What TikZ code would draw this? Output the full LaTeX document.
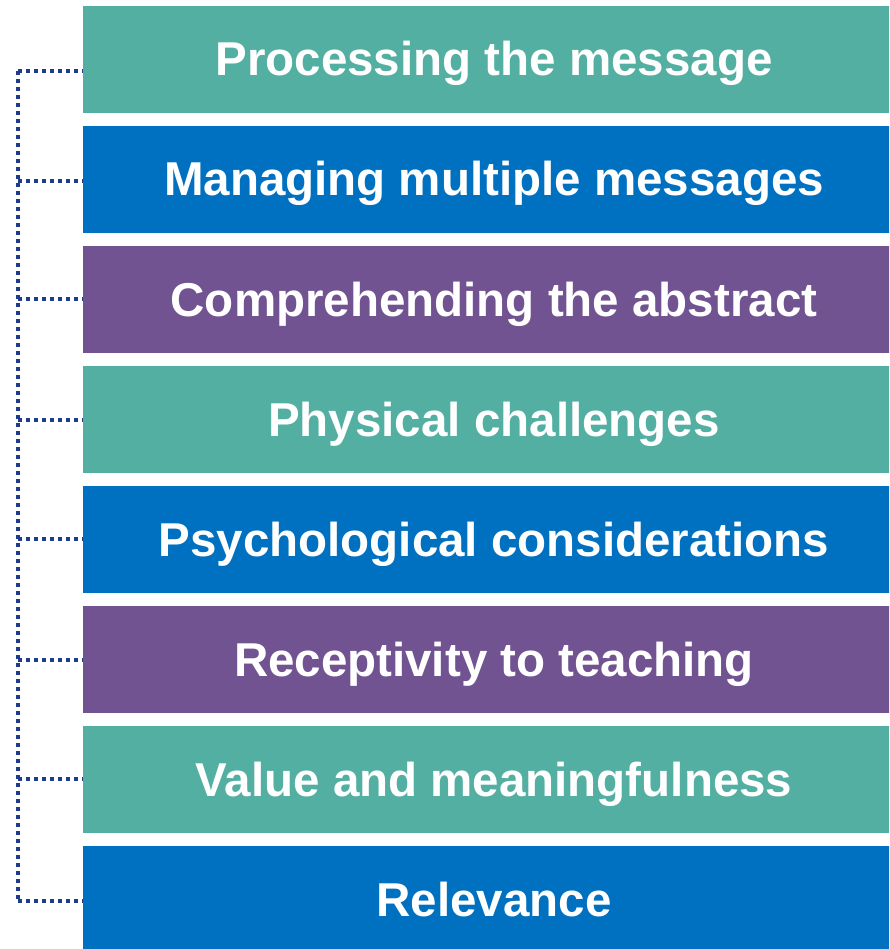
\documentclass[tikz,border=0pt]{standalone}
\usepackage{fontspec}
\setmainfont{Liberation Sans}
\definecolor{cteal}{HTML}{53AFA1}
\definecolor{cblue}{HTML}{0070C0}
\definecolor{cpurple}{HTML}{715391}
\definecolor{cdot}{HTML}{1F3C8C}
\begin{document}
\begin{tikzpicture}[x=1pt,y=-1pt,
  box/.style={minimum width=822pt,minimum height=107pt,inner sep=0pt,text=white,
    text height=36pt,text depth=3pt,
    font=\fontsize{47.5pt}{50pt}\selectfont\bfseries},
  dotline/.style={draw=cdot,line width=3.5pt,dash pattern=on 4pt off 4pt}]
\useasboundingbox (0,0) rectangle (889,949);
\clip (0,0) rectangle (889,949);
\node[box,fill=cteal] (b1) at (494,59.5) {Processing the message};
\node[box,fill=cblue] (b2) at (494,179.5) {Managing multiple messages};
\node[box,fill=cpurple] (b3) at (494,299.5) {Comprehending the abstract};
\node[box,fill=cteal] (b4) at (494,419.5) {Physical challenges};
\node[box,fill=cblue] (b5) at (494,539.5) {Psychological considerations};
\node[box,fill=cpurple] (b6) at (494,659.5) {Receptivity to teaching};
\node[box,fill=cteal] (b7) at (494,779.5) {Value and meaningfulness};
\node[box,fill=cblue] (b8) at (494,899.5) {Relevance};
\coordinate (t1) at (18,71);
\coordinate (t2) at (18,181);
\coordinate (t3) at (18,299);
\coordinate (t4) at (18,420);
\coordinate (t5) at (18,539);
\coordinate (t6) at (18,660);
\coordinate (t7) at (18,779);
\coordinate (t8) at (18,901);
\draw[dotline] (t1) -- (t8);
\foreach \i in {1,...,8}{
  \draw[dotline] (t\i) -- (b\i.west |- t\i);
}
\end{tikzpicture}
\end{document}
